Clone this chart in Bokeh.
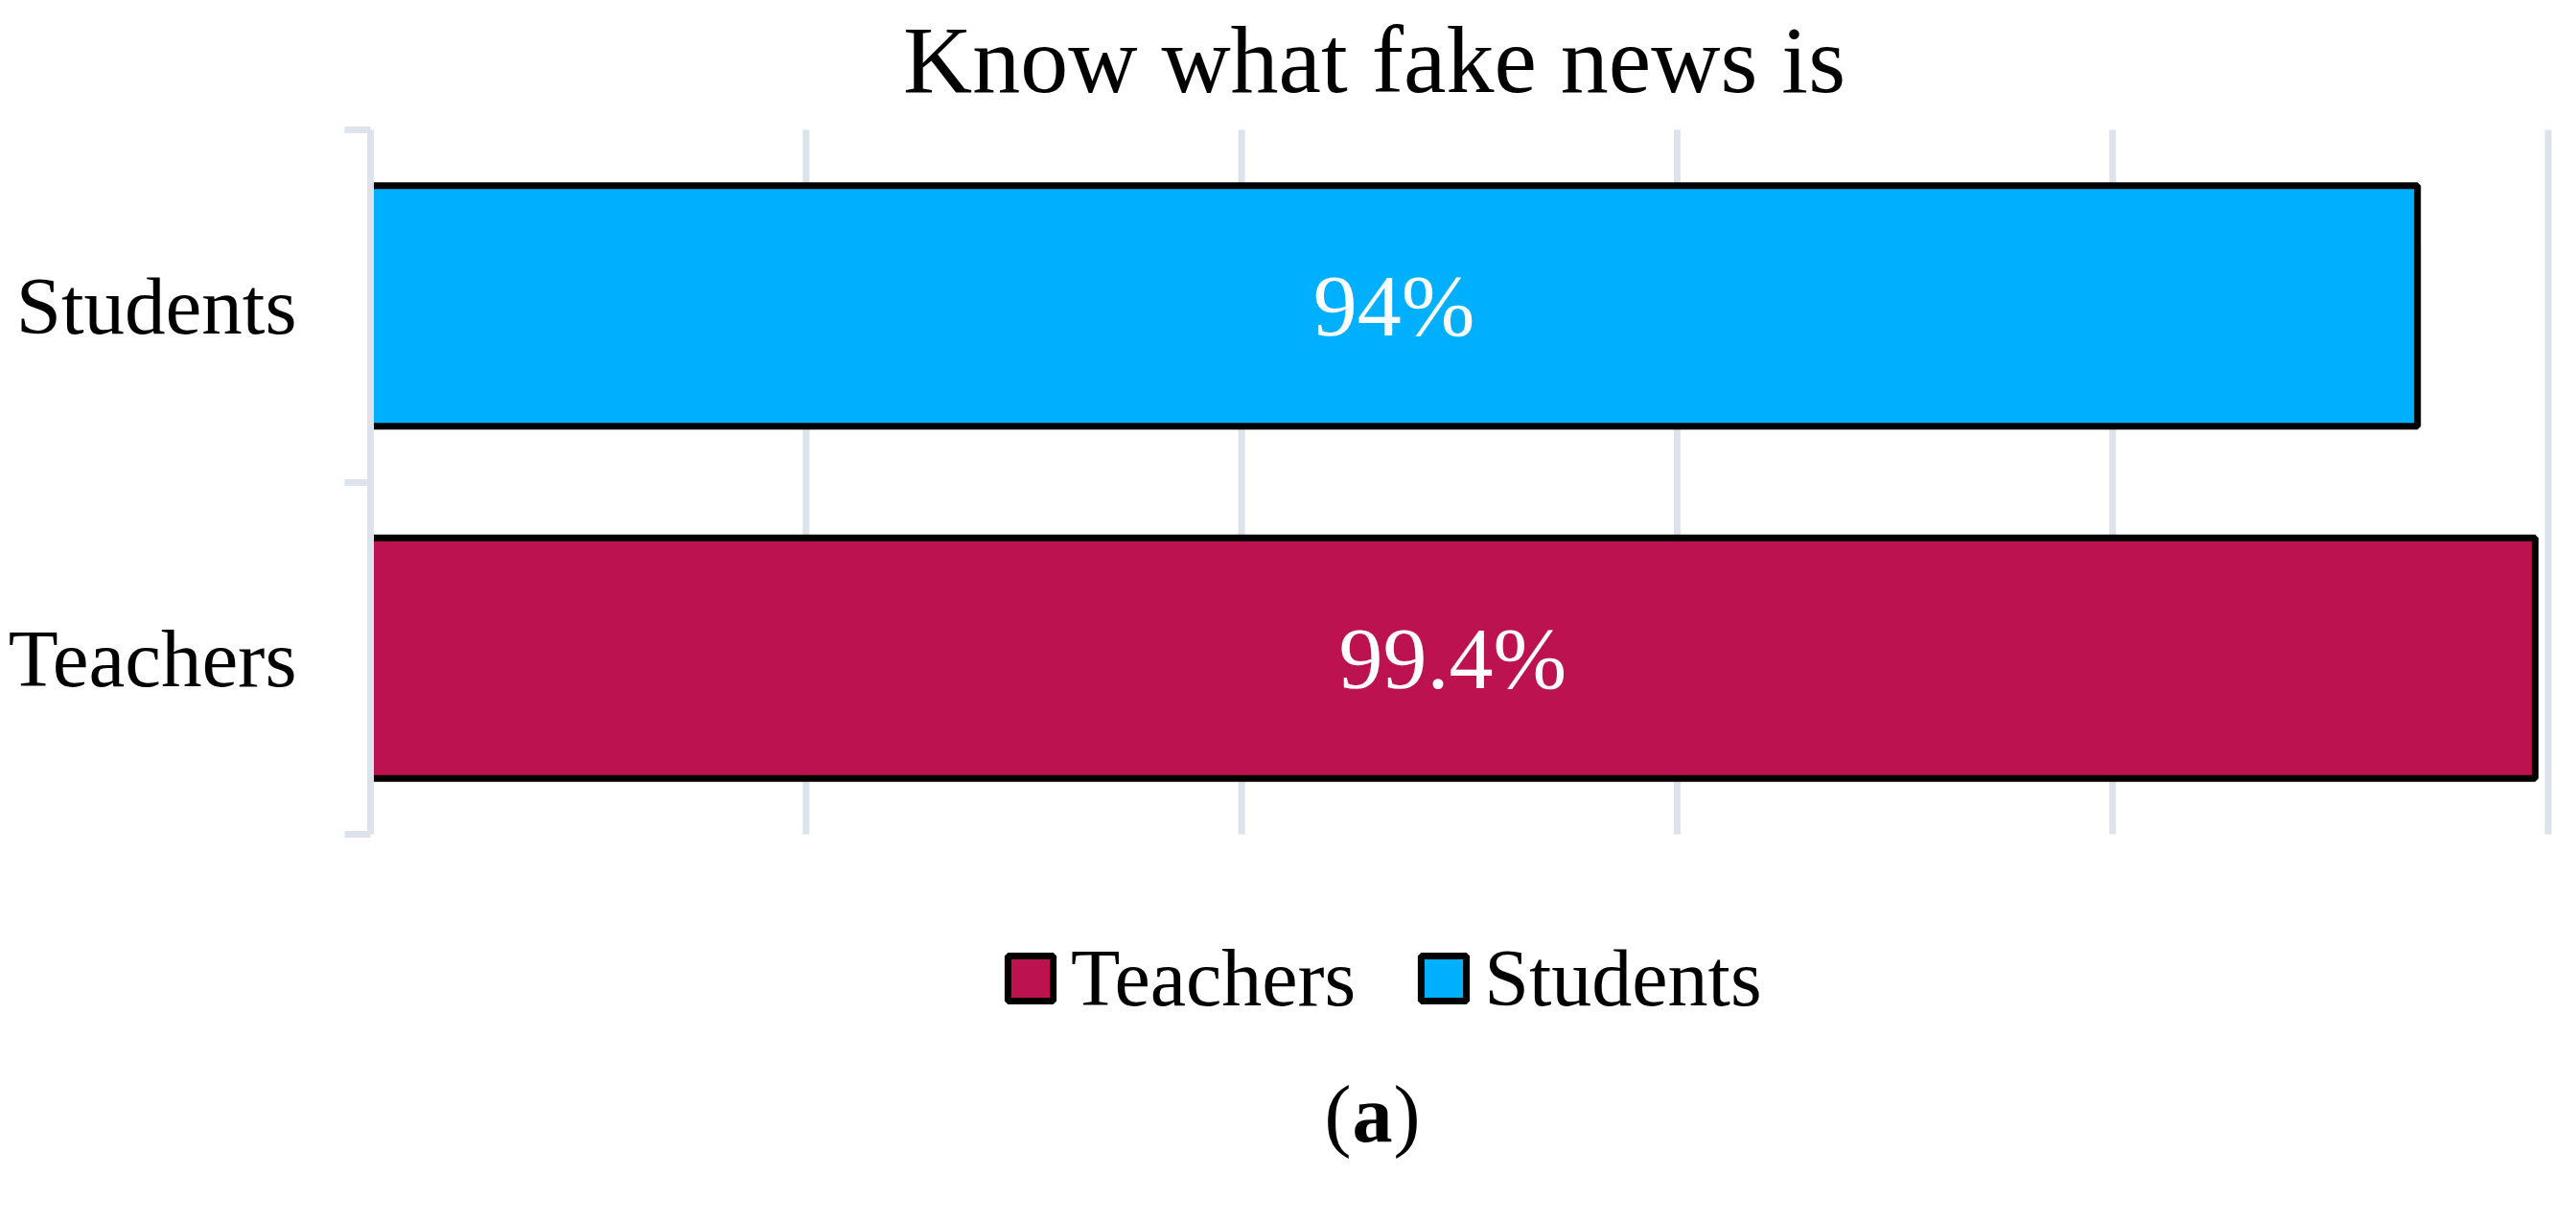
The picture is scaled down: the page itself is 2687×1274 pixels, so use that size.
from bokeh.plotting import figure
from bokeh.models import Range1d, FixedTicker, Label, Legend, LegendItem, ColumnDataSource
from bokeh.embed import file_html
from bokeh.resources import INLINE

# ---- data ----
categories = ["Teachers", "Students"]          # bottom to top
values = [99.4, 94.0]
value_labels = ["99.4%", "94%"]
colors = ["#BC1250", "#00B0FF"]
x_ticks = [20, 40, 60, 80, 100]
title_text = "Know what fake news is"
panel_tag = "a"

FONT = "Liberation Serif"
GRID = "#dde3ea"

W, H = 2679, 1266
LEFT = 386
n = len(categories)
# bar band: 735 px tall, 135 px below the top, 396 px above the bottom
band_top, band_bottom = 135, 870
unit = (band_bottom - band_top) / n
y_start = -(H - band_bottom) / unit
y_end = n + band_top / unit
px_per_x = (2657.5 - LEFT) / 100.0
x_end = (W - LEFT) / px_per_x

p = figure(width=W, height=H, output_backend="svg", toolbar_location=None,
           x_range=Range1d(0, x_end), y_range=Range1d(y_start, y_end),
           min_border_left=LEFT, min_border_right=0, min_border_top=0, min_border_bottom=0)
p.outline_line_color = None
p.background_fill_color = "white"

pos = [i + 0.5 for i in range(n)]

# vertical grid lines limited to the bar band
p.segment(x0=x_ticks, x1=x_ticks, y0=[0] * len(x_ticks), y1=[n] * len(x_ticks),
          line_color=GRID, line_width=7, level="underlay")

renderers = []
for i, cat in enumerate(categories):
    src = ColumnDataSource(dict(y=[pos[i]], right=[values[i]], left=[0], xm=[values[i] / 2], lab=[value_labels[i]]))
    r = p.hbar(y="y", left="left", right="right", height=0.683, source=src,
               fill_color=colors[i], line_color="black", line_width=7)
    renderers.append(r)
    p.text(x="xm", y="y", text="lab", source=src, text_color="white", text_font=FONT,
           text_font_size="92px", text_align="center", text_baseline="middle")

# axes
p.xaxis.visible = False
p.xgrid.visible = False
p.ygrid.visible = False

ya = p.yaxis[0]
ya.bounds = (0, n)
ya.ticker = FixedTicker(ticks=pos, minor_ticks=list(range(n + 1)))
ya.major_label_overrides = {pos[i]: categories[i] for i in range(n)}
ya.major_tick_line_color = None
ya.major_tick_out = 0
ya.major_tick_in = 0
ya.minor_tick_in = 0
ya.minor_tick_out = 27
ya.minor_tick_line_color = GRID
ya.minor_tick_line_width = 7
ya.axis_line_color = GRID
ya.axis_line_width = 7
ya.major_label_text_font = FONT
ya.major_label_text_font_size = "85px"
ya.major_label_text_color = "black"
ya.major_label_standoff = 50

# title
p.add_layout(Label(x=1047, y=1204, x_units="screen", y_units="screen", text=title_text,
                   text_font=FONT, text_font_size="100px", text_align="center",
                   text_baseline="alphabetic", text_color="black"))

# legend
legend = Legend(items=[LegendItem(label=categories[i], renderers=[renderers[i]]) for i in range(n)],
                location=(659, 197), orientation="horizontal",
                border_line_color=None, background_fill_alpha=0, padding=0, margin=0,
                label_text_font=FONT, label_text_font_size="84px", label_text_color="black",
                glyph_width=59, glyph_height=59, label_standoff=13, spacing=62)
p.add_layout(legend, "center")

# (a)
p.add_layout(Label(x=1023, y=104, x_units="screen", y_units="screen", text="(",
                   text_font=FONT, text_font_size="84px", text_align="right",
                   text_baseline="alphabetic", text_color="black"))
p.add_layout(Label(x=1045, y=104, x_units="screen", y_units="screen", text=panel_tag,
                   text_font=FONT, text_font_size="84px", text_font_style="bold",
                   text_align="center", text_baseline="alphabetic", text_color="black"))
p.add_layout(Label(x=1067, y=104, x_units="screen", y_units="screen", text=")",
                   text_font=FONT, text_font_size="84px", text_align="left",
                   text_baseline="alphabetic", text_color="black"))

open("out.html", "w").write(file_html(p, INLINE))
